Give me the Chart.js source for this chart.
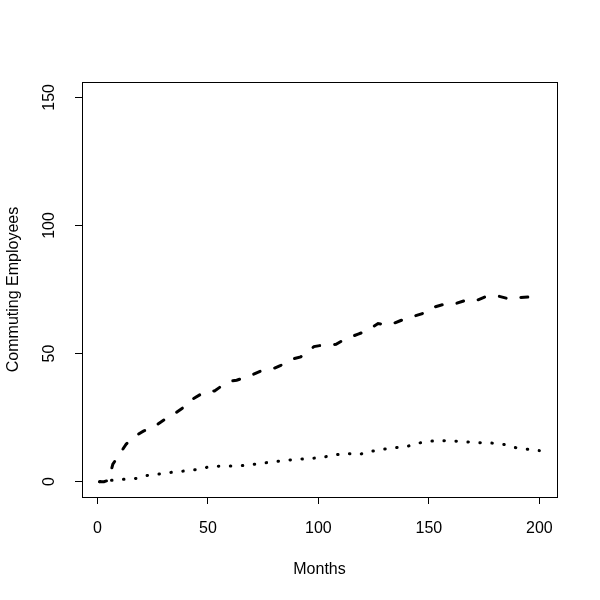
<html lang="en">
<head>
    <meta charset="UTF-8">
    <title>Commuting Employees</title>
    <script src="https://cdn.jsdelivr.net/npm/chart.js"></script>
    <style>
        body { margin: 0; background: #fff; }
        #wrap { width: 600px; height: 600px; }
    </style>
</head>
<body>
    <div id="wrap"><canvas id="commuteChart" width="600" height="600"></canvas></div>

    <script>
        // Dashed series
        const dashedMonths = [1, 3, 5, 7, 9, 13, 16, 21, 25, 31, 34, 40, 43, 49, 53, 59, 63, 69, 74, 79, 83, 89, 92, 98, 102, 108, 112, 118, 122, 127, 132, 137, 141, 147, 150, 156, 160, 166, 170, 176, 181, 187, 191, 196, 200];
        const dashedValues = [0, 0, 0.5, 6.8, 9.4, 14.6, 17.2, 19.8, 21.1, 24.6, 26, 29.6, 32.2, 35.2, 35.4, 39, 39.6, 41.3, 43.2, 43.9, 45.4, 48, 48.7, 52.7, 53.3, 53.6, 55.6, 57.6, 58.9, 61.7, 61.1, 62.8, 64, 65.6, 67.6, 69, 68.9, 70.6, 70.2, 72.3, 72.5, 71.2, 71.9, 72.1, 71.6];

        // Dotted series
        const dottedMonths = [1, 6, 12, 18, 23, 29, 35, 40, 46, 51, 57, 62, 68, 73, 79, 85, 90, 96, 101, 107, 112, 118, 123, 129, 134, 140, 145, 151, 156, 162, 167, 173, 178, 184, 189, 195, 200];
        const dottedValues = [0, 0.5, 0.9, 1.3, 2.5, 3.1, 3.8, 4.2, 4.8, 5.9, 6.1, 6.1, 6.4, 7, 7.7, 8.3, 8.7, 9, 9.4, 10.3, 11.1, 10.5, 11.7, 12.6, 13.2, 13.7, 15, 15.8, 16, 15.8, 15.5, 15.2, 15.1, 14.5, 13.3, 12.6, 12.1];

        const xTicks = [0, 50, 100, 150, 200];
        const yTicks = [0, 50, 100, 150];

        const toPoints = (xs, ys) => xs.map((x, i) => ({ x: x, y: ys[i] }));

        // box around the plot region, like R's box()
        const boxPlugin = {
            id: 'box',
            afterDraw(chart) {
                const a = chart.chartArea;
                const c = chart.ctx;
                c.save();
                c.strokeStyle = '#000';
                c.lineWidth = 1;
                c.strokeRect(a.left + 0.5, a.top + 0.5, a.right - a.left, a.bottom - a.top);
                c.restore();
            }
        };

        Chart.defaults.font.family = '"Liberation Sans", Arial, sans-serif';
        Chart.defaults.font.size = 16;
        Chart.defaults.color = '#000';

        const ctx = document.getElementById('commuteChart').getContext('2d');
        new Chart(ctx, {
            type: 'line',
            data: {
                datasets: [{
                    data: toPoints(dashedMonths, dashedValues),
                    borderColor: '#000',
                    borderWidth: 3,
                    borderCapStyle: 'round',
                    borderDash: [7, 15],
                    pointRadius: 0,
                    tension: 0,
                    fill: false,
                }, {
                    data: toPoints(dottedMonths, dottedValues),
                    borderColor: '#000',
                    borderWidth: 3,
                    borderCapStyle: 'round',
                    borderDash: [0.5, 11.5],
                    pointRadius: 0,
                    tension: 0,
                    fill: false,
                }]
            },
            options: {
                responsive: false,
                animation: false,
                layout: { padding: { top: 82, right: 43, left: 0, bottom: 0 } },
                plugins: {
                    legend: { display: false },
                    tooltip: { enabled: false },
                },
                scales: {
                    x: {
                        type: 'linear',
                        min: -6.96,
                        max: 207.96,
                        afterBuildTicks: (s) => { s.ticks = xTicks.map(v => ({ value: v })); },
                        afterFit: (s) => { s.height = 103; },
                        grid: { drawOnChartArea: false, color: '#000', tickLength: 7 },
                        border: { display: false },
                        ticks: { padding: 15, maxRotation: 0 },
                        title: { display: true, text: 'Months', padding: { top: 15, bottom: 21 } },
                    },
                    y: {
                        type: 'linear',
                        min: -6,
                        max: 156,
                        afterBuildTicks: (s) => { s.ticks = yTicks.map(v => ({ value: v })); },
                        afterFit: (s) => { s.width = 82; },
                        grid: { drawOnChartArea: false, color: '#000', tickLength: 7 },
                        border: { display: false },
                        ticks: { padding: 12, minRotation: 90, maxRotation: 90, crossAlign: 'center' },
                        title: { display: true, text: 'Commuting Employees', padding: { bottom: 0 } },
                    },
                },
            },
            plugins: [boxPlugin],
        });
    </script>
</body>
</html>
